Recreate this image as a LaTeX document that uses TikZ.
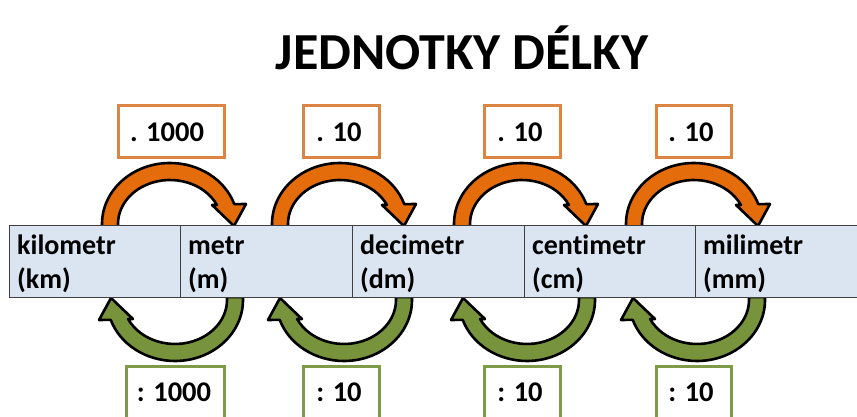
\documentclass[tikz,border=0pt]{standalone}
\usepackage{fontspec}
\setmainfont{Carlito}[Ligatures={NoCommon}]
\definecolor{orangeF}{HTML}{E46C0A}
\definecolor{orangeB}{HTML}{DC8442}
\definecolor{greenF}{HTML}{77933C}
\definecolor{greenB}{HTML}{7E9B4A}
\definecolor{bandF}{HTML}{DBE5F1}
\definecolor{bandB}{HTML}{404040}
\tikzset{
  curvedarrow/.pic={
    \draw[pic actions] (-68,-3) -- (-68,0)
      arc[start angle=180,end angle=19,x radius=68,y radius=61]
      -- (76,20) -- (64,-2) -- (42,19) -- (46.9,19)
      arc[start angle=25.6,end angle=180,x radius=52,y radius=44]
      -- (-52,-3) -- cycle;
  },
  mularrow/.style={fill=orangeF,draw=black,line width=2.6pt,line join=round},
  divarrow/.style={fill=greenF,draw=black,line width=2.6pt,line join=round,rotate=180},
  cell/.style={draw=bandB,fill=bandF,line width=1pt,anchor=south west,
    minimum height=72pt,inner sep=0pt},
  unit/.style={anchor=base west,inner sep=0pt,font=\fontsize{28}{34}\selectfont\bfseries},
  boxtext/.style={inner sep=0pt,font=\fontsize{28.5}{34}\selectfont\bfseries},
}
\begin{document}
\begin{tikzpicture}[x=1pt,y=1pt]
\useasboundingbox (0,0) rectangle (857,417);
% title
\node[font=\fontsize{52}{60}\selectfont\bfseries] (title) at (462,369) {JEDNOTKY DÉLKY};
% arrows above (multiply)
\pic[mularrow] at (170,193) {curvedarrow};
\pic[mularrow] at (340,193) {curvedarrow};
\pic[mularrow] at (522,193) {curvedarrow};
\pic[mularrow] at (694,193) {curvedarrow};
% arrows below (divide)
\pic[divarrow] at (175,117) {curvedarrow};
\pic[divarrow] at (344,117) {curvedarrow};
\pic[divarrow] at (527,117) {curvedarrow};
\pic[divarrow] at (697,117) {curvedarrow};
% band cells
\node[cell,minimum width=171pt] (c1) at (9,119) {};
\node[cell,minimum width=172pt] (c2) at (180,119) {};
\node[cell,minimum width=172pt] (c3) at (352,119) {};
\node[cell,minimum width=171pt] (c4) at (524,119) {};
\node[cell,minimum width=175pt] (c5) at (695,119) {};
% unit texts
\node[unit] (t1a) at (17,162) {kilometr};
\node[unit] (t1b) at (17,128) {(km)};
\node[unit] (t2a) at (188,162) {metr};
\node[unit] (t2b) at (188,128) {(m)};
\node[unit] (t3a) at (360,162) {decimetr};
\node[unit] (t3b) at (360,128) {(dm)};
\node[unit] (t4a) at (532,162) {centimetr};
\node[unit] (t4b) at (532,128) {(cm)};
\node[unit] (t5a) at (703,162) {milimetr};
\node[unit] (t5b) at (703,128) {(mm)};
% multiply boxes
\draw[draw=orangeB,line width=3pt,fill=white] (118,259) rectangle (224,311);
\draw[draw=orangeB,line width=3pt,fill=white] (303,259) rectangle (379,311);
\draw[draw=orangeB,line width=3pt,fill=white] (484,259) rectangle (560,311);
\draw[draw=orangeB,line width=3pt,fill=white] (656,259) rectangle (731,311);
\node[boxtext] (m1) at (167,285) {. 1000};
\node[boxtext] (m2) at (339,285) {. 10};
\node[boxtext] (m3) at (520,285) {. 10};
\node[boxtext] (m4) at (691,285) {. 10};
% divide boxes
\draw[draw=greenB,line width=3pt,fill=white] (126,50) rectangle (224,-10);
\draw[draw=greenB,line width=3pt,fill=white] (303,50) rectangle (379,-10);
\draw[draw=greenB,line width=3pt,fill=white] (484,50) rectangle (560,-10);
\draw[draw=greenB,line width=3pt,fill=white] (656,50) rectangle (731,-10);
\node[boxtext] (d1) at (174,25) {: 1000};
\node[boxtext] (d2) at (339,25) {: 10};
\node[boxtext] (d3) at (520,25) {: 10};
\node[boxtext] (d4) at (691,25) {: 10};
\end{tikzpicture}
\end{document}
